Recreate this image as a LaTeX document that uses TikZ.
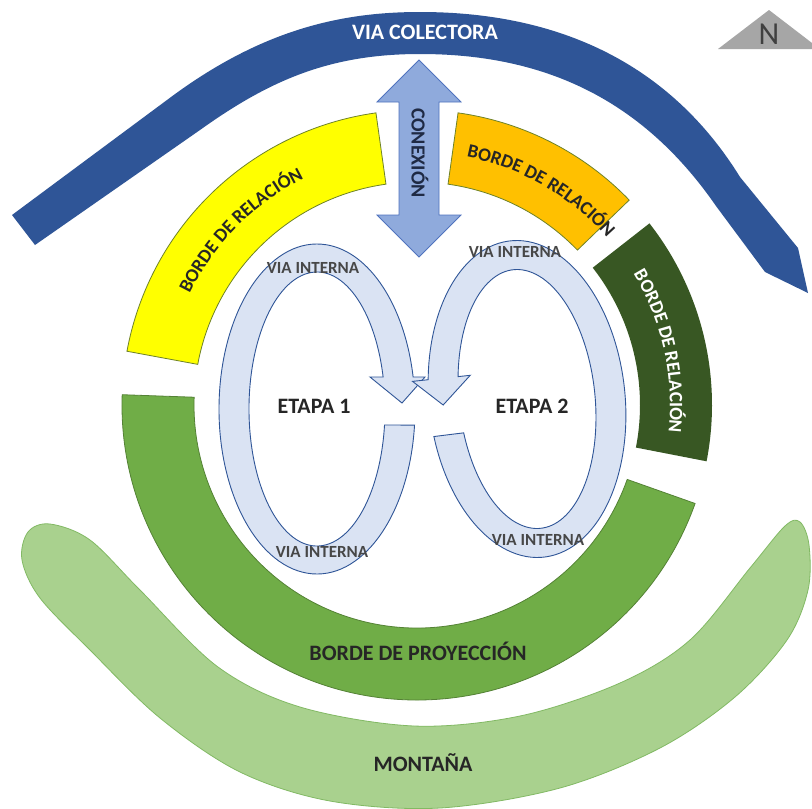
\documentclass[tikz,border=0pt]{standalone}
\usepackage{fontspec}
\setmainfont{Carlito}
\usetikzlibrary{calc,decorations.text}
\definecolor{vblue}{RGB}{47,85,151}
\definecolor{vyel}{RGB}{255,255,0}
\definecolor{vorange}{RGB}{255,192,0}
\definecolor{vdgreen}{RGB}{56,87,35}
\definecolor{vgreen}{RGB}{112,173,71}
\definecolor{vgreenl}{RGB}{84,130,53}
\definecolor{vmont}{RGB}{169,209,142}
\definecolor{vmontl}{RGB}{130,185,100}
\definecolor{volive}{RGB}{110,130,40}
\definecolor{vloop}{RGB}{218,227,243}
\definecolor{vcon}{RGB}{143,170,220}
\definecolor{vconl}{RGB}{80,115,190}
\definecolor{vtxt}{RGB}{38,38,38}
\definecolor{vnavy}{RGB}{31,42,68}
\definecolor{vgray}{RGB}{166,166,166}
\definecolor{vngray}{RGB}{64,64,64}
\newcommand\lblfont{\bfseries\fontsize{22}{22}\selectfont}
\newcommand\relfont{\bfseries\fontsize{19}{19}\selectfont}
\tikzset{
  bandline/.style={line width=0.8pt},
  loopsty/.style={fill=vloop, draw=vblue, line width=0.9pt},
  lbl/.style={font=\lblfont, text=vtxt, inner sep=0pt},
  vialbl/.style={font=\bfseries\fontsize{17}{17}\selectfont, text=vtxt!85, inner sep=0pt},
}
\begin{document}
\begin{tikzpicture}[x=1pt,y=1pt]
\useasboundingbox (0,0) rectangle (812,-809);
\fill[white] (0,0) rectangle (812,-809);
\coordinate (C) at (417,-405);

% Via colectora
\fill[vblue] (12,-215) -- (167,-100) .. controls (260,-30) and (340,-12) .. (420,-12)
  .. controls (570,-12) and (675,-72) .. (740,-177) -- (798,-248) -- (808,-293) -- (765,-272) -- (716,-206)
  .. controls (640,-96) and (540,-54) .. (420,-54) .. controls (330,-54) and (270,-80) .. (200,-130)
  -- (35,-245) -- cycle;
\node[font=\bfseries\fontsize{22}{22}\selectfont, text=white, inner sep=0pt] (vc) at (425,-32) {VIA COLECTORA};

% North
\fill[vgray] (718,-49) -- (769,-10) -- (812,-43) -- (812,-49) -- cycle;
\node[font=\fontsize{32}{32}\selectfont, text=vngray, inner sep=0pt] (north) at (769,-34) {N};

% Montana
\draw[fill=vmont, draw=vmontl, line width=0.8pt] plot[smooth cycle, tension=0.55] coordinates {
 (22,-560) (28,-532) (50,-524) (90,-540) (140,-590) (218,-667) (300,-707) (414,-726)
 (520,-716) (620,-683) (690,-640) (750,-568) (785,-526) (800,-522) (809,-545) (808,-590)
 (787,-640) (735,-697) (660,-748) (560,-788) (440,-808) (330,-801) (240,-772) (160,-718)
 (90,-650) (40,-598)};
\node[lbl] (mont) at (423,-763) {MONTAÑA};

% Bands
\draw[bandline, fill=vyel, draw=volive] ([shift={(98:295)}]C) arc[start angle=98,end angle=169.5,radius=295]
  -- ([shift={(169.5:223)}]C) arc[start angle=169.5,end angle=98,radius=223] -- cycle;
\draw[bandline, fill=vorange, draw=volive] ([shift={(82:295)}]C) arc[start angle=82,end angle=44,radius=295]
  -- ([shift={(44:223)}]C) arc[start angle=44,end angle=82,radius=223] -- cycle;
\fill[vdgreen] ([shift={(38:295)}]C) arc[start angle=38,end angle=-11,radius=295]
  -- ([shift={(-11:223)}]C) arc[start angle=-11,end angle=38,radius=223] -- cycle;
\draw[bandline, fill=vgreen, draw=vgreenl] ([shift={(178:295)}]C) arc[start angle=178,end angle=340.5,radius=295]
  -- ([shift={(340.5:223)}]C) arc[start angle=340.5,end angle=178,radius=223] -- cycle;

\path[decorate, decoration={text along path, text align=center, text color=vtxt,
  text={|\relfont|BORDE DE RELACIÓN}}]
  ([shift={(171:253)}]C) arc[start angle=171,end angle=99.5,radius=253];
\path[decorate, decoration={text along path, text align=center, text color=vtxt,
  text={|\relfont|BORDE DE RELACIÓN}}]
  ([shift={(80:253)}]C) arc[start angle=80,end angle=40,radius=253];
\path[decorate, decoration={text along path, text align=center, text color=white,
  text={|\relfont|BORDE DE RELACIÓN}}]
  ([shift={(37:253)}]C) arc[start angle=37,end angle=-12,radius=253];
\node[lbl] (proy) at (418,-651) {BORDE DE PROYECCIÓN};

% Conexion
\draw[fill=vcon, draw=vconl, line width=0.8pt] (419,-60) -- (461,-102) -- (439,-102) -- (439,-215) -- (461,-215)
  -- (419,-257) -- (377,-215) -- (399,-215) -- (399,-102) -- (377,-102) -- cycle;
\node[font=\bfseries\fontsize{20}{20}\selectfont, text=vnavy, rotate=-90, inner sep=0pt] (con) at (420,-153) {CONEXIÓN};

% Left loop
\coordinate (L) at (317,-409);
\draw[loopsty] ($(L)+(-5.6:98 and 165)$) arc[start angle=-5.6, end angle=-348.8, x radius=98, y radius=165]
  -- ($(L)+(108,32)$) -- ($(L)+(85,6)$) -- ($(L)+(53,32)$)
  -- ($(L)+(-346.5:68 and 137)$) arc[start angle=-346.5, end angle=-6.7, x radius=68, y radius=137] -- cycle;

% Right loop
\begin{scope}[shift={(527,-399)}, rotate=6]
\draw[loopsty] (190:98 and 159) arc[start angle=190, end angle=529.3, x radius=98, y radius=159]
  -- (-112,29.5) -- (-84,2.8) -- (-54,29.5)
  -- (526.9:68 and 130) arc[start angle=526.9, end angle=192, x radius=68, y radius=130] -- cycle;
\end{scope}

\node[lbl] (e1) at (314,-406) {ETAPA 1};
\node[lbl] (e2) at (532,-406) {ETAPA 2};
\node[vialbl] (v1) at (313,-268) {VIA INTERNA};
\node[vialbl] (v2) at (515,-252) {VIA INTERNA};
\node[vialbl] (v3) at (322,-552) {VIA INTERNA};
\node[vialbl] (v4) at (538,-540) {VIA INTERNA};
\end{tikzpicture}
\end{document}
